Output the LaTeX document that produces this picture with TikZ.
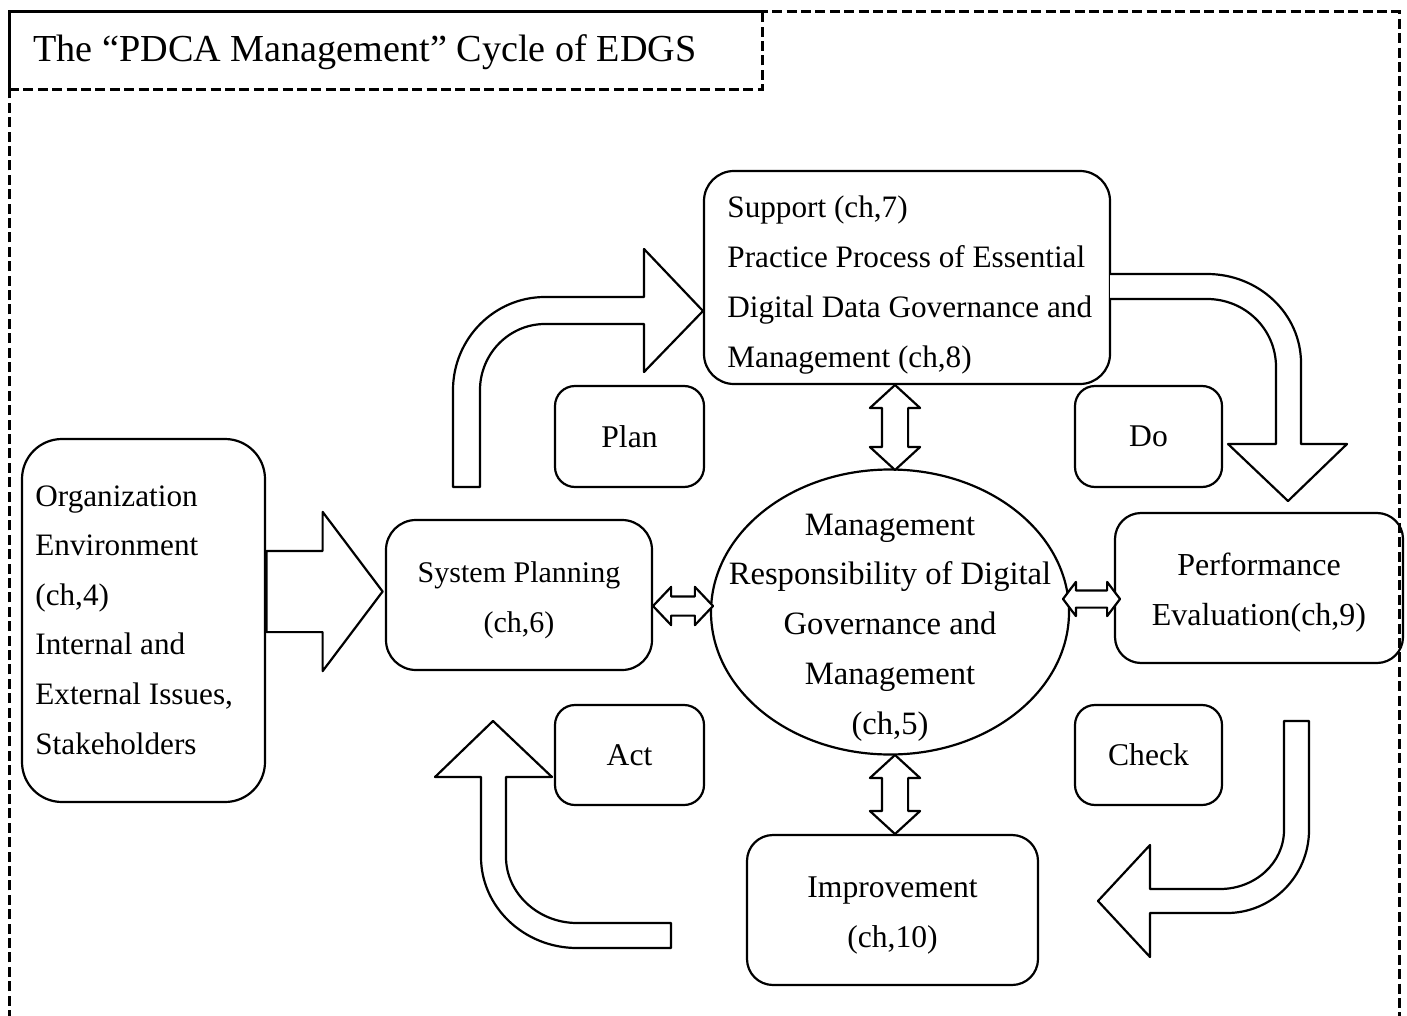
\documentclass[tikz,border=0pt]{standalone}
\usepackage{fontspec}
\setmainfont{Liberation Serif}
\usetikzlibrary{shapes.geometric,shapes.arrows}
\begin{document}
\begin{tikzpicture}[x=0.5pt,y=-0.5pt,
  ln/.style={line width=1.1pt, line join=round},
  dashframe/.style={line width=1.5pt, dash pattern=on 5pt off 2.2pt},
  box/.style={ln, draw, rounded corners=#1, inner sep=0pt},
  txt/.style={font=\fontsize{15.8}{25}\selectfont, inner sep=0pt},
  dbl/.style={ln, draw, fill=white, double arrow, inner xsep=0pt},
  bigarrow/.style={ln, draw, fill=white}
]
\useasboundingbox (0,0) rectangle (1407,1016);

% outer dashed frame
\draw[dashframe] (9,1020) -- (9,12) -- (1399,12) -- (1399,1020);
\node[dashframe, draw, minimum width=376.5pt, minimum height=39pt, inner sep=0pt] (title) at (385.5,51) {};
\node[anchor=west, inner sep=0pt, font=\fontsize{19.1}{23}\selectfont] (titletext) at (33,52) {The “PDCA Management” Cycle of EDGS};

% boxes
\node[box=15pt, minimum width=203pt, minimum height=106.5pt] (support) at (907,277.5) {};
\node[txt, anchor=west, align=left, font=\fontsize{15.6}{25}\selectfont] (supporttext) at (727,285.5)
  {Support (ch,7)\\Practice Process of Essential\\Digital Data Governance and\\Management (ch,8)};
\node[box=10pt, minimum width=74.5pt, minimum height=50.5pt, txt] (plan) at (629.5,436.5) {Plan};
\node[box=10pt, minimum width=73.5pt, minimum height=50.5pt, txt] (do) at (1148.5,436.5) {Do};
\node[box=20pt, minimum width=121.5pt, minimum height=181.5pt] (org) at (143.5,620.5) {};
\node[txt, anchor=west, align=left, font=\fontsize{15.6}{24.8}\selectfont] (orgtext) at (35,620)
  {Organization\\Environment\\(ch,4)\\Internal and\\External Issues,\\Stakeholders};
\node[box=15pt, minimum width=133pt, minimum height=75pt] (sp) at (519,595) {};
\node[txt, align=center, font=\fontsize{15}{25}\selectfont] (sptext) at (519,600) {System Planning\\(ch,6)};
\node[ln, draw, ellipse, minimum width=179pt, minimum height=142.5pt, inner sep=0pt] (mr) at (890,612) {};
\node[txt, align=center, font=\fontsize{16.3}{24.9}\selectfont] (mrtext) at (890,627.5)
  {Management\\Responsibility of Digital\\Governance and\\Management\\(ch,5)};
\node[box=13pt, minimum width=144pt, minimum height=75pt] (perf) at (1259,588) {};
\node[txt, align=center, font=\fontsize{16}{25}\selectfont] (perftext) at (1259,593) {Performance\\Evaluation(ch,9)};
\node[box=10pt, minimum width=74.5pt, minimum height=50pt, txt] (act) at (629.5,755) {Act};
\node[box=10pt, minimum width=73.5pt, minimum height=50pt, txt] (check) at (1148.5,755) {Check};
\node[box=13pt, minimum width=145.5pt, minimum height=75pt] (imp) at (892.5,910) {};
\node[txt, align=center] (imptext) at (892.5,916) {Improvement\\(ch,10)};

% big straight arrow
\node[ln, draw, fill=white, single arrow, inner xsep=0pt, inner ysep=19.75pt, minimum height=58pt,
      single arrow head extend=19.5pt, single arrow tip angle=106, anchor=tip] (inarrow) at (384,591.5) {};

% small double arrows
\node[dbl, inner ysep=4.25pt, minimum height=30pt, double arrow head extend=4.75pt, double arrow tip angle=93] (dsp) at (683,606) {};
\node[dbl, inner ysep=3.75pt, minimum height=28.5pt, double arrow head extend=4.25pt, double arrow tip angle=106] (dperf) at (1091.5,599) {};
\node[dbl, rotate=90, inner ysep=6pt, minimum height=42.5pt, double arrow head extend=6pt, double arrow tip angle=95] (dsup) at (895,427.5) {};
\node[dbl, rotate=90, inner ysep=6pt, minimum height=39.5pt, double arrow head extend=6pt, double arrow tip angle=95] (dimp) at (895,794.5) {};

% Plan curved arrow
\draw[bigarrow] (453,487) -- (453,390) .. controls (453,339) and (494,297) .. (545,297) -- (644,297) -- (644,249)
  -- (703,311) -- (644,372) -- (644,324) -- (545,324) .. controls (509,324) and (480,354) .. (480,390) -- (480,487) -- cycle;
% Do curved arrow
\draw[bigarrow] (1110,274) -- (1207,274) .. controls (1259,274) and (1301,314) .. (1301,363) -- (1301,444) -- (1347,444)
  -- (1288,501) -- (1228,444) -- (1276,444) -- (1276,367) .. controls (1276,329) and (1245,299) .. (1207,299) -- (1110,299);
% Check curved arrow
\draw[bigarrow] (1284,721) -- (1309,721) -- (1309,830) .. controls (1309,876) and (1272,913) .. (1227,913) -- (1150,913)
  -- (1150,957) -- (1098,901) -- (1150,845) -- (1150,889) -- (1220,889) .. controls (1255,889) and (1284,863) .. (1284,830) -- cycle;
% Act curved arrow
\draw[bigarrow] (671,923) -- (671,948) -- (577,948) .. controls (524,948) and (481,907) .. (481,857) -- (481,777) -- (435,777)
  -- (493,721) -- (552,777) -- (506,777) -- (506,857) .. controls (506,893) and (538,923) .. (577,923) -- cycle;
\end{tikzpicture}
\end{document}
